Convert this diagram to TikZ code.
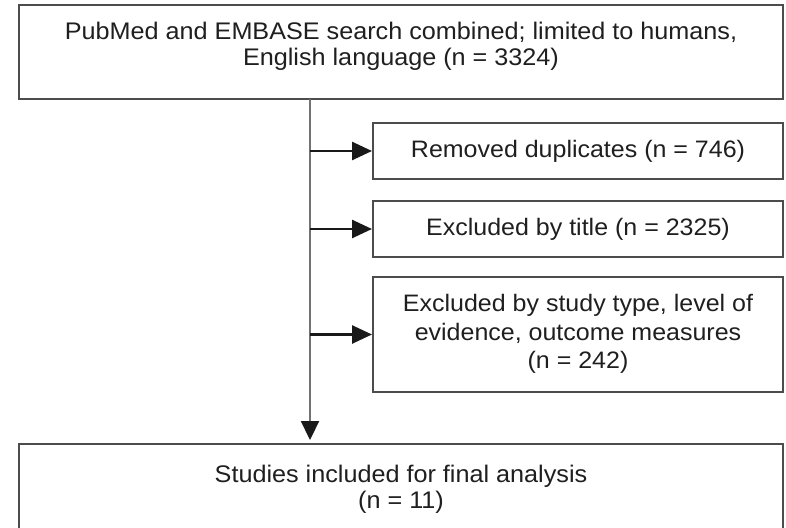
\documentclass[tikz,border=0pt]{standalone}
\usepackage{fontspec}
\setmainfont[FakeStretch=1.05]{Liberation Sans}
\usetikzlibrary{arrows.meta}
\begin{document}
\begin{tikzpicture}[x=1pt,y=-1pt,
  boxframe/.style={draw=black!70, line width=2pt, fill=white, rectangle, inner sep=0pt},
  txt/.style={text=black!88, align=center, inner sep=0pt, font=\fontsize{23.8}{28.5}\selectfont},
  txtwide/.style={txt, font=\fontsize{24}{26}\selectfont},
  trunk/.style={draw=black!55, line width=2.2pt, shorten >=3pt, -{Triangle[length=19pt,width=18pt,color=black!90]}},
  branch/.style={draw=black!90, line width=2.6pt, -{Triangle[length=20pt,width=18pt]}}]
\clip (0,0) rectangle (786,527);
\fill[white] (0,0) rectangle (786,527);
% boxes
\node[boxframe, minimum width=764pt, minimum height=94pt] (top) at (401,52) {};
\node[txtwide] (toptext) at (401,46) {PubMed and EMBASE search combined; limited to humans,\\English language (n = 3324)};
\node[boxframe, minimum width=410pt, minimum height=56pt] (b1) at (578,151) {};
\node[txt] (b1text) at (578,151) {Removed duplicates (n = 746)};
\node[boxframe, minimum width=410pt, minimum height=56pt] (b2) at (578,229) {};
\node[txt] (b2text) at (578,229) {Excluded by title (n = 2325)};
\node[boxframe, minimum width=410pt, minimum height=115pt] (b3) at (578,334.5) {};
\node[txt] (b3text) at (578,334) {Excluded by study type, level of\\evidence, outcome measures\\(n = 242)};
\node[boxframe, minimum width=764pt, minimum height=120pt] (bot) at (401,504) {};
\node[txtwide] (bottext) at (401,489) {Studies included for final analysis\\(n = 11)};
% connectors
\coordinate (t) at (310,99);
\draw[trunk] (t) -- (t |- bot.north);
\draw[branch] (t |- b1.west) -- (b1.west);
\draw[branch] (t |- b2.west) -- (b2.west);
\draw[branch] (t |- b3.west) -- (b3.west);
\end{tikzpicture}
\end{document}
